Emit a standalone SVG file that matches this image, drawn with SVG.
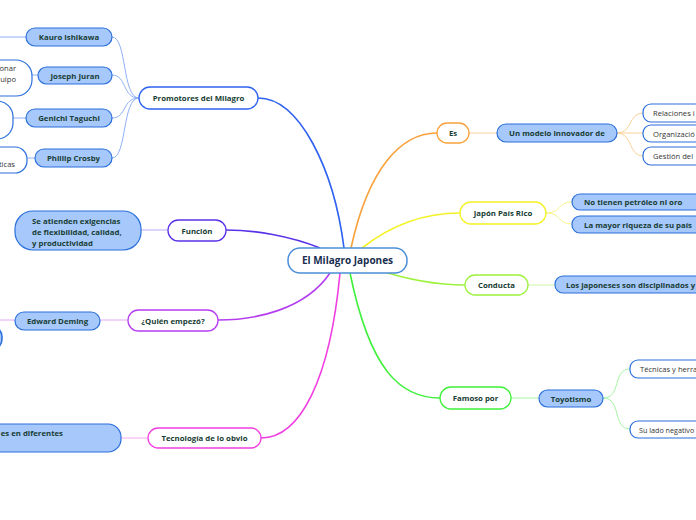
<svg xmlns="http://www.w3.org/2000/svg" width="696" height="520" viewBox="0 0 696 520">
<style>
text{font-family:"Open Sans","Noto Sans","Liberation Sans",sans-serif;font-weight:700;font-size:7.8px;fill:#183d33}
.c{text-anchor:middle}
.main{fill:#fff;stroke-width:1.3}
.sub{fill:#a6c8fb;stroke:#2b6fdc;stroke-width:1.2}
.leaf{fill:#fff;stroke:#2b6fdc;stroke-width:1.2}
.lt{font-weight:400;fill:#333;font-size:7.6px}
.con path,.con line{fill:none}
</style>
<rect width="696" height="520" fill="#fff"/>
<g id="connectors" class="con">
<path d="M344,248 C334,170 300,98 258,98" stroke="#2f62f0" stroke-width="1.6"/>
<path d="M351,248 C368,170 400,133 437,133" stroke="#f9a13a" stroke-width="1.6"/>
<path d="M362,248 C395,222 430,213 460,213" stroke="#f2f224" stroke-width="1.6"/>
<path d="M320,248 C290,236 255,230 226,230" stroke="#5a32e8" stroke-width="1.6"/>
<path d="M378,270 C415,282 440,285 465,285" stroke="#9cf23c" stroke-width="1.6"/>
<path d="M330,273 C305,310 255,320 218,320" stroke="#b43ef0" stroke-width="1.6"/>
<path d="M340,273 C330,380 300,438 261,438" stroke="#f03ee0" stroke-width="1.6"/>
<path d="M350,273 C370,370 400,398 440,398" stroke="#3ef03a" stroke-width="1.6"/>
<g stroke="#8fb0f5" stroke-width="1">
<path d="M139,98 C122,98 127,37 112,37"/>
<path d="M139,98 C122,98 127,75 112,75"/>
<path d="M139,98 C122,98 127,118 112,118"/>
<path d="M139,98 C122,98 127,158 112,158"/>
<line x1="-5" y1="37" x2="26" y2="37"/>
<line x1="10" y1="75" x2="38" y2="75"/>
<line x1="13" y1="118" x2="26" y2="118"/>
<line x1="10" y1="158" x2="35" y2="158"/>
</g>
<line x1="141" y1="230" x2="168" y2="230" stroke="#b9a8f5" stroke-width="1"/>
<line x1="100" y1="320" x2="128" y2="320" stroke="#dfa8f7" stroke-width="1"/>
<line x1="-5" y1="320" x2="15" y2="320" stroke="#dfa8f7" stroke-width="1"/>
<line x1="121" y1="438" x2="148" y2="438" stroke="#f7a8ef" stroke-width="1"/>
<line x1="469" y1="133" x2="497" y2="133" stroke="#fcd29a" stroke-width="1"/>
<g stroke="#fcd29a" stroke-width="1">
<path d="M617,133 C633,133 628,113 643,113"/>
<path d="M617,133 L643,133"/>
<path d="M617,133 C633,133 628,156 643,156"/>
</g>
<g stroke="#f5f58a" stroke-width="1">
<path d="M546,213 C562,213 557,202 572,202"/>
<path d="M546,213 C562,213 557,224 572,224"/>
</g>
<line x1="528" y1="285" x2="555" y2="285" stroke="#cdf8a0" stroke-width="1"/>
<line x1="511" y1="398" x2="539" y2="398" stroke="#a5f5a3" stroke-width="1"/>
<g stroke="#a5f5a3" stroke-width="1">
<path d="M603,398 C622,398 612,369 630,369"/>
<path d="M603,398 C622,398 612,429 630,429"/>
</g>
</g>
<g id="central">
<rect x="288" y="248" width="119" height="25" rx="12" fill="#fff" stroke="#4a8fd8" stroke-width="1.5"/>
<text class="c" x="347.5" y="264" style="font-size:10px;font-weight:700;fill:#1a2f4f">El Milagro Japones</text>
</g>
<g id="promotores">
<rect class="main" x="139" y="87" width="119" height="22" rx="11" stroke="#2f62f0"/>
<text class="c" x="198.5" y="101">Promotores del Milagro</text>
</g>
<g id="ishikawa">
<rect class="sub" x="26" y="28" width="86" height="18" rx="9"/>
<text class="c" x="69" y="40">Kauro Ishikawa</text>
</g>
<g id="ishikawa-child">
<rect class="leaf" x="-80" y="28" width="78" height="18" rx="9"/>
</g>
<g id="juran">
<rect class="sub" x="38" y="67" width="74" height="17" rx="8.5"/>
<text class="c" x="75" y="78.5">Joseph Juran</text>
</g>
<g id="juran-child">
<rect class="leaf" x="-80" y="60" width="112" height="36" rx="16"/>
<text class="lt" x="16" y="71" text-anchor="end">onar</text>
<text class="lt" x="16" y="82" text-anchor="end">uipo</text>
</g>
<g id="taguchi">
<rect class="sub" x="26" y="109" width="86" height="18" rx="9"/>
<text class="c" x="69" y="121">Genichi Taguchi</text>
</g>
<g id="taguchi-child">
<rect class="leaf" x="-80" y="101" width="93" height="38" rx="16"/>
</g>
<g id="crosby">
<rect class="sub" x="35" y="149" width="77" height="18" rx="9"/>
<text class="c" x="73.5" y="161">Phillip Crosby</text>
</g>
<g id="crosby-child">
<rect class="leaf" x="-80" y="147" width="107" height="26" rx="12"/>
<text class="lt" x="15" y="167" text-anchor="end">ticas</text>
</g>
<g id="funcion">
<rect class="main" x="168" y="220" width="58" height="21" rx="10.5" stroke="#5a32e8"/>
<text class="c" x="197" y="233.5">Función</text>
</g>
<g id="funcion-child">
<rect class="sub" x="15" y="211" width="126" height="39" rx="18"/>
<text x="32" y="224">Se atienden exigencias</text>
<text x="32" y="235">de flexibilidad, calidad,</text>
<text x="32" y="246">y productividad</text>
</g>
<g id="quien">
<rect class="main" x="128" y="310" width="90" height="21" rx="10.5" stroke="#b43ef0"/>
<text class="c" x="173" y="323.5">¿Quién empezó?</text>
</g>
<g id="deming">
<rect class="sub" x="15" y="312" width="85" height="18" rx="9"/>
<text class="c" x="57.5" y="324">Edward Deming</text>
</g>
<g id="deming-child">
<rect class="sub" x="-80" y="326" width="82" height="24" rx="11" style="stroke-width:1.6"/>
</g>
<g id="tecnologia">
<rect class="main" x="148" y="428" width="113" height="20" rx="10" stroke="#f03ee0"/>
<text class="c" x="204.5" y="441">Tecnología de lo obvio</text>
</g>
<g id="tecnologia-child">
<rect class="sub" x="-80" y="424" width="201" height="28" rx="13"/>
<text x="63" y="436" text-anchor="end">es en diferentes</text>
</g>
<g id="es">
<rect class="main" x="437" y="123" width="32" height="20" rx="10" stroke="#f9a13a"/>
<text class="c" x="453" y="136">Es</text>
</g>
<g id="modelo">
<rect class="sub" x="497" y="124" width="120" height="18" rx="9"/>
<text class="c" x="557" y="136">Un modelo innovador de</text>
</g>
<g id="relaciones">
<rect class="leaf" x="643" y="104" width="80" height="18" rx="8"/>
<text class="lt" x="653" y="116">Relaciones i</text>
</g>
<g id="organizacion">
<rect class="leaf" x="643" y="125" width="80" height="17" rx="8"/>
<text class="lt" x="653" y="136.5">Organizació</text>
</g>
<g id="gestion">
<rect class="leaf" x="643" y="147" width="80" height="18" rx="8"/>
<text class="lt" x="653" y="159">Gestión del</text>
</g>
<g id="japon">
<rect class="main" x="460" y="202" width="86" height="22" rx="11" stroke="#f2f224"/>
<text class="c" x="503" y="216">Japón País Rico</text>
</g>
<g id="petroleo">
<rect class="sub" x="572" y="194" width="150" height="16" rx="8"/>
<text x="584" y="205">No tienen petróleo ni oro</text>
</g>
<g id="riqueza">
<rect class="sub" x="572" y="216" width="150" height="17" rx="8"/>
<text x="584" y="227.5">La mayor riqueza de su país</text>
</g>
<g id="conducta">
<rect class="main" x="465" y="275" width="63" height="20" rx="10" stroke="#9cf23c"/>
<text class="c" x="496.5" y="288">Conducta</text>
</g>
<g id="disciplinados">
<rect class="sub" x="555" y="276" width="170" height="17" rx="8"/>
<text x="566" y="287.5">Los japoneses son disciplinados y</text>
</g>
<g id="famoso">
<rect class="main" x="440" y="387" width="71" height="22" rx="11" stroke="#3ef03a"/>
<text class="c" x="475.5" y="401">Famoso por</text>
</g>
<g id="toyotismo">
<rect class="sub" x="539" y="390" width="64" height="17" rx="8.5"/>
<text class="c" x="571" y="401.5">Toyotismo</text>
</g>
<g id="tecnicas">
<rect class="leaf" x="630" y="360" width="90" height="18" rx="8"/>
<text class="lt" x="640" y="372">Técnicas y herra</text>
</g>
<g id="negativo">
<rect class="leaf" x="630" y="421" width="90" height="17" rx="8"/>
<text class="lt" x="639" y="432.5" style="font-size:7.2px">Su lado negativo</text>
</g>
</svg>
